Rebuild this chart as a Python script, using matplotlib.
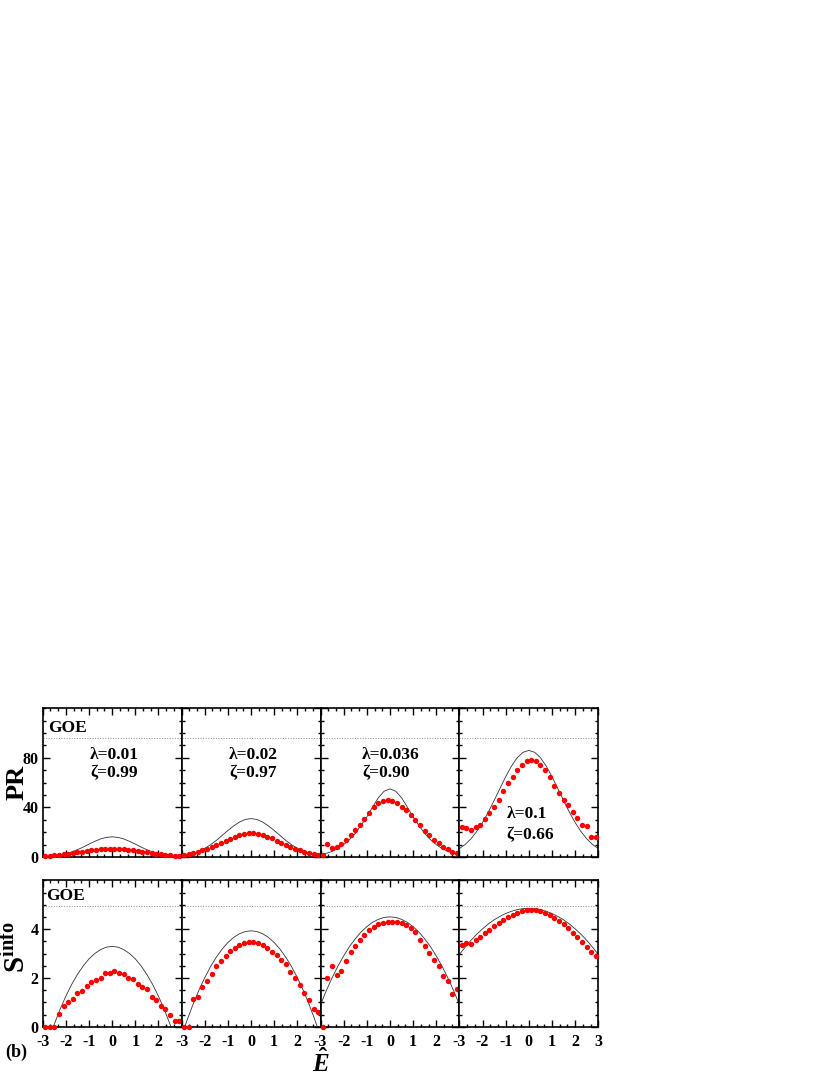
import matplotlib.pyplot as plt
import numpy as np
from matplotlib.ticker import MultipleLocator

plt.rcParams['font.family'] = 'Liberation Serif'
plt.rcParams['font.weight'] = 'bold'
plt.rcParams['axes.unicode_minus'] = False
plt.rcParams['mathtext.fontset'] = 'custom'
plt.rcParams['mathtext.rm'] = 'Liberation Serif:bold'
plt.rcParams['mathtext.it'] = 'Liberation Serif:italic:bold'
plt.rcParams['mathtext.bf'] = 'Liberation Serif:bold'

# energy grid of the numerical points and of the theory curves
E_pts = [-2.9, -2.7, -2.5, -2.3, -2.1, -1.9, -1.7, -1.5, -1.3, -1.1, -0.9, -0.7, -0.5, -0.3, -0.1,
         0.1, 0.3, 0.5, 0.7, 0.9, 1.1, 1.3, 1.5, 1.7, 1.9, 2.1, 2.3, 2.5, 2.7, 2.9]
E_line = [-3.0, -2.75, -2.5, -2.25, -2.0, -1.75, -1.5, -1.25, -1.0, -0.75, -0.5, -0.25, 0.0,
          0.25, 0.5, 0.75, 1.0, 1.25, 1.5, 1.75, 2.0, 2.25, 2.5, 2.75, 3.0]

lambdas = ['0.01', '0.02', '0.036', '0.1']
zetas = ['0.99', '0.97', '0.90', '0.66']

pr_goe = 96
s_goe = 4.93

# PR, numerics (red dots)
pr_dots1 = [0.8, 1.1, 1.4, 1.8, 2.3, 2.8, 3.3, 3.8, 4.4, 4.9, 5.4, 5.8, 6.2, 6.4, 6.6,
            6.6, 6.4, 6.1, 5.8, 5.3, 4.8, 4.3, 3.8, 3.3, 2.8, 2.3, 1.9, 1.5, 1.2, 1.0]
pr_dots2 = [2.0, 2.7, 3.5, 4.4, 5.5, 6.7, 8.0, 9.5, 11.0, 12.9, 14.7, 16.2, 17.5, 18.3, 19.0,
            19.0, 18.5, 17.6, 16.5, 15.0, 13.2, 11.4, 9.6, 8.0, 6.6, 5.3, 4.2, 3.3, 2.5, 1.9]
pr_dots3 = [2.0, 10.4, 6.9, 7.7, 10.4, 13.6, 17.6, 21.6, 26.1, 30.9, 35.5, 40.3, 43.7, 45.0, 45.6,
            45.0, 43.7, 40.3, 37.6, 33.6, 29.6, 25.6, 21.1, 17.6, 13.6, 10.9, 7.7, 6.1, 4.3, 3.0]
pr_dots4 = [24.0, 23.5, 22.0, 24.5, 26.0, 31.0, 35.5, 40.3, 46.4, 53.6, 59.5, 64.8, 70.1, 74.4, 77.5,
            78.1, 77.1, 74.4, 70.1, 64.8, 57.6, 51.7, 46.4, 41.6, 36.3, 31.7, 25.6, 24.8, 16.3, 16.0]

# PR, theory (black line)
pr_th1 = [0.3, 0.5, 1.0, 1.6, 2.7, 4.1, 5.9, 8.0, 10.4, 12.6, 14.6, 15.8, 16.3,
          15.8, 14.6, 12.6, 10.4, 8.0, 5.9, 4.1, 2.7, 1.6, 1.0, 0.5, 0.3]
pr_th2 = [1.1, 1.9, 3.0, 4.7, 7.0, 9.9, 13.4, 17.4, 21.4, 25.1, 28.2, 30.3, 31.0,
          30.3, 28.2, 25.1, 21.4, 17.4, 13.4, 9.9, 7.0, 4.7, 3.0, 1.9, 1.1]
pr_th3 = [1.8, 2.9, 4.5, 6.8, 10.0, 14.0, 19.0, 25.5, 32.3, 40.3, 47.9, 53.1, 55.0,
          53.1, 47.9, 40.3, 32.3, 25.5, 19.0, 14.0, 10.0, 6.8, 4.5, 2.9, 1.8]
pr_th4 = [6.8, 10.1, 14.7, 20.6, 27.8, 36.2, 45.6, 55.3, 64.8, 73.4, 80.2, 84.5, 86.0,
          84.5, 80.2, 73.4, 64.8, 55.3, 45.6, 36.2, 27.8, 20.6, 14.7, 10.1, 6.8]

# S_info, numerics
s_dots1 = [0.0, 0.0, 0.0, 0.53, 0.84, 1.0, 1.13, 1.37, 1.47, 1.67, 1.83, 1.91, 2.01, 2.21, 2.20,
           2.28, 2.21, 2.18, 2.0, 1.94, 1.74, 1.64, 1.56, 1.2, 1.11, 0.86, 0.73, 0.48, 0.23, 0.23]
s_dots2 = [0.0, 0.0, 1.13, 1.20, 1.63, 1.87, 2.17, 2.48, 2.71, 2.91, 3.11, 3.22, 3.34, 3.45, 3.46,
           3.46, 3.42, 3.34, 3.21, 3.06, 2.92, 2.75, 2.57, 2.24, 2.01, 1.71, 1.40, 1.09, 0.73, 0.59]
s_dots3 = [0.0, 1.98, 2.48, 2.10, 2.28, 2.71, 3.05, 3.31, 3.56, 3.76, 3.96, 4.10, 4.19, 4.26, 4.30,
           4.31, 4.30, 4.26, 4.16, 4.03, 3.89, 3.56, 3.29, 3.02, 2.75, 2.48, 2.08, 1.87, 1.33, 1.54]
s_dots4 = [3.35, 3.45, 3.40, 3.55, 3.68, 3.84, 3.97, 4.11, 4.25, 4.38, 4.48, 4.58, 4.67, 4.74, 4.79,
           4.80, 4.78, 4.73, 4.67, 4.58, 4.47, 4.35, 4.20, 4.03, 3.86, 3.67, 3.46, 3.26, 3.05, 2.90]

# S_info, theory
s_th1 = [-1.30, -0.57, 0.10, 0.71, 1.25, 1.73, 2.14, 2.49, 2.78, 3.00, 3.16, 3.26, 3.29,
         3.26, 3.16, 3.00, 2.78, 2.49, 2.14, 1.73, 1.25, 0.71, 0.10, -0.57, -1.30]
s_th2 = [-0.39, 0.30, 0.93, 1.50, 2.01, 2.46, 2.85, 3.18, 3.45, 3.66, 3.81, 3.90, 3.93,
         3.90, 3.81, 3.66, 3.45, 3.18, 2.85, 2.46, 2.01, 1.50, 0.93, 0.30, -0.39]
s_th3 = [0.90, 1.48, 2.00, 2.48, 2.90, 3.28, 3.60, 3.88, 4.10, 4.28, 4.40, 4.48, 4.50,
         4.48, 4.40, 4.28, 4.10, 3.88, 3.60, 3.28, 2.90, 2.48, 2.00, 1.48, 0.90]
s_th4 = [2.96, 3.26, 3.54, 3.79, 4.01, 4.21, 4.38, 4.52, 4.64, 4.73, 4.80, 4.84, 4.85,
         4.84, 4.80, 4.73, 4.64, 4.52, 4.38, 4.21, 4.01, 3.79, 3.54, 3.26, 2.96]

pr_dots = [pr_dots1, pr_dots2, pr_dots3, pr_dots4]
pr_th = [pr_th1, pr_th2, pr_th3, pr_th4]
s_dots = [s_dots1, s_dots2, s_dots3, s_dots4]
s_th = [s_th1, s_th2, s_th3, s_th4]

fig = plt.figure(figsize=(8.3, 10.75), dpi=100)

left0 = 42.7 / 830
pw = 138.9 / 830
top_b, top_h = 1 - 857 / 1075, 148.7 / 1075
bot_b, bot_h = 1 - 1026.7 / 1075, 146.4 / 1075


def style(ax, ymax, ymaj, ymin):
    ax.set_xlim(-3, 3)
    ax.set_ylim(0, ymax)
    ax.xaxis.set_minor_locator(MultipleLocator(1 / 3))
    ax.yaxis.set_major_locator(MultipleLocator(ymaj))
    ax.yaxis.set_minor_locator(MultipleLocator(ymin))
    ax.tick_params(which='both', direction='in', top=True, right=True, width=1.0,
                   labelsize=11.5)
    ax.tick_params(which='major', length=5)
    ax.tick_params(which='minor', length=2.5)
    ax.tick_params(axis='y', pad=3)
    ax.tick_params(axis='x', pad=5.5)
    for s in ax.spines.values():
        s.set_linewidth(1.2)
    ax.set_yticklabels([])


for i in range(4):
    # PR row
    ax = fig.add_axes([left0 + i * pw, top_b, pw, top_h])
    ax.plot(E_line, pr_th[i], color='#333333', lw=0.6, zorder=2)
    ax.plot(E_pts, pr_dots[i], 'o', color='red', ms=3.9, mew=0, zorder=3, clip_on=False)
    ax.axhline(pr_goe, color='#888888', ls=':', lw=0.7)
    style(ax, 120, 40, 10)
    ax.set_xticks([-3, -2, -1, 0, 1, 2, 3])
    ax.set_xticklabels([])
    if i == 0:
        ax.set_yticks([0, 40, 80])
        ax.set_yticklabels(['0', '40', '80'])
        ax.text(-2.76, 104, 'GOE', fontsize=12.5, ha='left', va='center')
    if i < 2:
        ax.text(0.08, 82.4, '\u03bb=' + lambdas[i], fontsize=12.5, ha='center', va='center')
        ax.text(0.08, 68, '\u03b6=' + zetas[i], fontsize=12.5, ha='center', va='center')
    elif i == 2:
        ax.text(-1.2, 82.4, '\u03bb=' + lambdas[i], fontsize=12.5, ha='left', va='center')
        ax.text(-1.2, 68, '\u03b6=' + zetas[i], fontsize=12.5, ha='left', va='center')
    else:
        ax.text(-0.95, 35, '\u03bb=' + lambdas[i], fontsize=12.5, ha='left', va='center')
        ax.text(-0.95, 17.6, '\u03b6=' + zetas[i], fontsize=12.5, ha='left', va='center')

    # S_info row
    ax2 = fig.add_axes([left0 + i * pw, bot_b, pw, bot_h])
    ax2.plot(E_line, s_th[i], color='#333333', lw=0.6, zorder=2)
    ax2.plot(E_pts, s_dots[i], 'o', color='red', ms=3.9, mew=0, zorder=3, clip_on=False)
    ax2.axhline(s_goe, color='#888888', ls=':', lw=0.7)
    style(ax2, 6, 2, 0.5)
    ax2.set_xticks([-3, -2, -1, 0, 1, 2, 3])
    if i < 3:
        ax2.set_xticklabels(['-3', '-2', '-1', '0', '1', '2', ''])
    else:
        ax2.set_xticklabels(['-3', '-2', '-1', '0', '1', '2', '3'])
    if i == 0:
        ax2.set_yticks([0, 2, 4])
        ax2.set_yticklabels(['0', '2', '4'])
        ax2.text(-2.86, 5.35, 'GOE', fontsize=12.5, ha='left', va='center')

fig.text(17 / 830, 1 - 782 / 1075, 'PR', fontsize=19, rotation=90, ha='center', va='center')
fig.text(17 / 830, 1 - 947 / 1075, r'$\mathbf{S}^{\mathbf{info}}$', fontsize=21, rotation=90,
         ha='center', va='center')
fig.text(320.5 / 830, 1 - 1063 / 1075, r'$\hat{E}$', fontsize=18, ha='center', va='center')
fig.text(5 / 830, 1 - 1052 / 1075, '(b)', fontsize=13, ha='left', va='center')

fig.savefig('out.png', dpi=100)
